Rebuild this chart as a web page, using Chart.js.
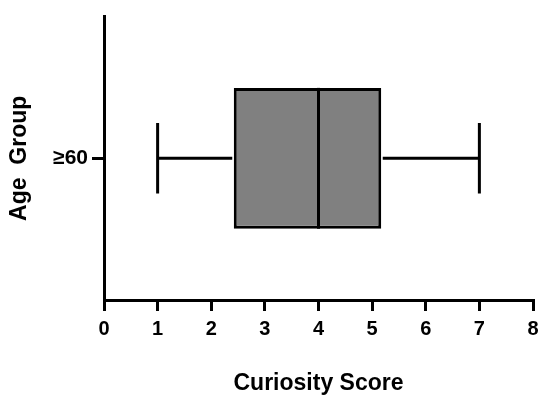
<!DOCTYPE html>
<html>
<head>
<meta charset="utf-8">
<script src="https://cdn.jsdelivr.net/npm/chart.js@4.4.1/dist/chart.umd.min.js"></script>
<style>
  html, body { margin: 0; padding: 0; background: #fff; }
  #wrap { width: 550px; height: 401px; position: relative; }
</style>
</head>
<body>
<div id="wrap"><canvas id="c" width="550" height="401"></canvas></div>
<script>
const categories = ["\u226560"];
const whiskerMin = [1];
const q1 = [2.42];
const median = [4];
const q3 = [5.17];
const whiskerMax = [7];
const xTicks = [0, 1, 2, 3, 4, 5, 6, 7, 8];

const FONT = "'Liberation Sans', Arial, sans-serif";

const boxPlugin = {
  id: 'boxExtras',
  afterDatasetsDraw(chart) {
    const ctx = chart.ctx;
    const xs = chart.scales.x;
    const meta = chart.getDatasetMeta(0);
    ctx.save();
    ctx.strokeStyle = '#000';
    ctx.lineCap = 'butt';
    meta.data.forEach((bar, i) => {
      const yc = bar.y;
      const h = bar.height;
      const top = yc - h / 2, bot = yc + h / 2;
      ctx.lineWidth = 3;
      const xm = xs.getPixelForValue(median[i]);
      ctx.beginPath(); ctx.moveTo(xm, top); ctx.lineTo(xm, bot); ctx.stroke();
      const xmin = xs.getPixelForValue(whiskerMin[i]);
      const xq1 = xs.getPixelForValue(q1[i]);
      const xq3 = xs.getPixelForValue(q3[i]);
      const xmax = xs.getPixelForValue(whiskerMax[i]);
      ctx.beginPath();
      ctx.moveTo(xmin, yc); ctx.lineTo(xq1 - 1.5, yc);
      ctx.moveTo(xq3 + 1.5, yc); ctx.lineTo(xmax, yc);
      const capH = h * 0.25;
      ctx.moveTo(xmin, yc - capH); ctx.lineTo(xmin, yc + capH);
      ctx.moveTo(xmax, yc - capH); ctx.lineTo(xmax, yc + capH);
      ctx.stroke();
    });
    ctx.restore();
  }
};

new Chart(document.getElementById('c'), {
  type: 'bar',
  data: {
    labels: categories,
    datasets: [{
      data: categories.map((_, i) => [q1[i], q3[i]]),
      backgroundColor: '#808080',
      borderColor: '#000',
      borderWidth: 3,
      borderSkipped: false,
      barPercentage: 0.7,
      categoryPercentage: 0.71
    }]
  },
  options: {
    indexAxis: 'y',
    responsive: false,
    animation: false,
    devicePixelRatio: 1,
    layout: { padding: { top: 12, right: 17, left: 0, bottom: 0 } },
    plugins: { legend: { display: false }, tooltip: { enabled: false } },
    scales: {
      x: {
        type: 'linear',
        min: 0, max: 8,
        afterBuildTicks: (s) => { s.ticks = xTicks.map(v => ({ value: v })); },
        afterFit: (s) => { s.height = 101; },
        border: { color: '#000', width: 3 },
        grid: { drawOnChartArea: false, color: '#000', lineWidth: 3, tickLength: 11 },
        ticks: { color: '#000', font: { family: FONT, size: 20, weight: 'bold' }, padding: 6 },
        title: { display: true, text: 'Curiosity Score', color: '#000', font: { family: FONT, size: 23, weight: 'bold' }, padding: { top: 25 } }
      },
      y: {
        type: 'category',
        offset: true,
        afterFit: (s) => { s.width = 104; },
        border: { color: '#000', width: 3 },
        grid: { drawOnChartArea: false, color: '#000', lineWidth: 3, tickLength: 12, offset: false },
        ticks: { color: '#000', font: { family: FONT, size: 21, weight: 'bold' }, padding: 4 },
        title: { display: true, text: 'Age  Group', color: '#000', font: { family: FONT, size: 23, weight: 'bold' }, padding: { bottom: 0, top: 6 } }
      }
    }
  },
  plugins: [boxPlugin]
});
</script>
</body>
</html>
